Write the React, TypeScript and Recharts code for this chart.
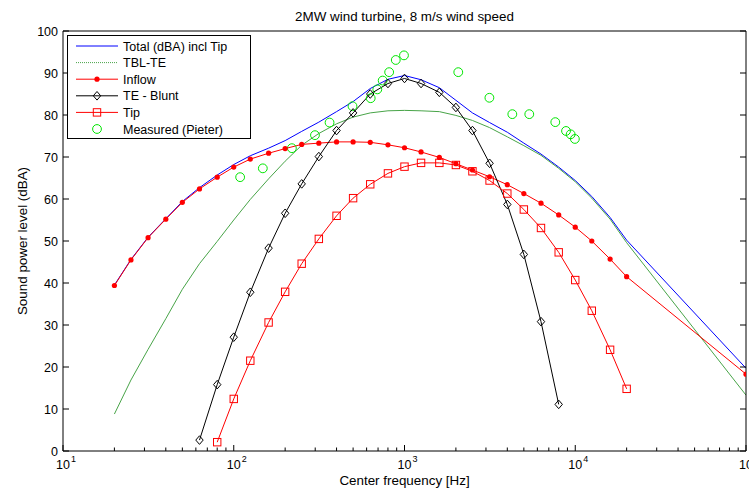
import {
  ComposedChart,
  Line,
  Scatter,
  XAxis,
  YAxis,
  Legend,
} from "recharts";

// 1/3-octave band centres used by the model curves (last point is the 100 kHz end value)
const freqs = [
  20, 25, 31.5, 40, 50, 63, 80, 100, 125, 160, 200, 250, 315, 400, 500, 630, 800,
  1000, 1250, 1600, 2000, 2500, 3150, 4000, 5000, 6300, 8000, 10000, 12500, 16000,
  20000, 100000,
];

const totalLevels = [
  39.5, 45.6, 50.9, 55.3, 59.4, 62.7, 65.7, 68.2, 70.3, 72.1, 73.9, 76.1, 78.3, 80.8,
  83.2, 86.3, 88.5, 89.4, 88.4, 86.5, 83.5, 80.5, 78.2, 75.9, 73.3, 70.7, 67.6, 64.4,
  60.6, 55.6, 50.2, 19.7,
];

const tblLevels = [
  8.8, 16.9, 24.2, 31.5, 38.5, 44.6, 49.9, 55.0, 59.9, 64.8, 69.0, 72.8, 75.6, 77.9,
  79.5, 80.5, 81.0, 81.1, 81.0, 80.8, 79.9, 78.7, 77.0, 74.8, 72.7, 70.4, 67.3, 64.1,
  60.2, 55.2, 49.6, 13.3,
];

const inflowLevels = [
  39.4, 45.5, 50.8, 55.2, 59.2, 62.4, 65.2, 67.6, 69.5, 70.9, 72.0, 73.0, 73.3, 73.6,
  73.6, 73.5, 72.9, 72.2, 71.2, 69.9, 68.4, 66.9, 65.3, 63.4, 61.3, 59.0, 56.2, 53.3,
  50.0, 45.7, 41.5, 18.3,
];

// TE - Blunt covers 63 Hz .. 8 kHz
const bluntFreqs = freqs.slice(5, 27);
const bluntLevels = [
  2.6, 15.8, 27.1, 37.8, 48.3, 56.6, 63.6, 70.1, 76.3, 80.5, 85.0, 87.5, 88.7, 87.5,
  85.4, 81.8, 76.3, 68.5, 58.7, 46.8, 30.8, 11.1,
];

// Tip covers 80 Hz .. 20 kHz
const tipFreqs = freqs.slice(6, 31);
const tipLevels = [
  2.1, 12.4, 21.5, 30.6, 37.9, 44.6, 50.5, 56.0, 60.2, 63.5, 66.1, 67.7, 68.6, 68.6,
  68.1, 66.6, 64.4, 61.3, 57.5, 53.1, 47.3, 40.7, 33.4, 24.1, 14.8,
];

const measuredFreqs = [
  109, 148, 219, 299, 364, 496, 634, 693, 745, 813, 889, 993, 2065, 3142, 4280,
  5380, 7640, 8830, 9400, 9950,
];
const measuredLevels = [
  65.2, 67.3, 72.1, 75.2, 78.2, 82.1, 84.0, 86.1, 88.2, 90.2, 93.1, 94.2, 90.2, 84.1,
  80.2, 80.2, 78.3, 76.2, 75.4, 74.3,
];

const xMajorTicks = [10, 100, 1000, 10000, 100000];
const xMinorSteps = [2, 3, 4, 5, 6, 7, 8, 9];
const yTicks = [0, 10, 20, 30, 40, 50, 60, 70, 80, 90, 100];

const xTicks = [
  ...xMajorTicks,
  ...xMajorTicks.slice(0, 4).flatMap((d) => xMinorSteps.map((s) => d * s)),
];

const toPoints = (fs: number[], vs: number[]) => fs.map((f, i) => ({ f, v: vs[i] }));

const totalData = toPoints(freqs, totalLevels);
const tblData = toPoints(freqs, tblLevels);
const inflowData = toPoints(freqs, inflowLevels);
const bluntData = toPoints(bluntFreqs, bluntLevels);
const tipData = toPoints(tipFreqs, tipLevels);
const measuredData = toPoints(measuredFreqs, measuredLevels);

const FONT = "'Liberation Sans', Arial, Helvetica, sans-serif";
const FS = 12.5; // ticks + legend
const LABEL_FS = 13.4; // title + axis labels

const BLUE = "#0000ff";
const GREEN_LINE = "#48a448";
const RED = "#ff0000";
const BLACK = "#000000";
const GREEN_MARK = "#00e600";

type MarkerKind = "none" | "dot" | "diamond" | "square" | "circle";

function Marker({ kind, cx, cy, color }: { kind: MarkerKind; cx: number; cy: number; color: string }) {
  if (kind === "dot") return <circle cx={cx} cy={cy} r={2.6} fill={color} stroke="none" />;
  if (kind === "diamond")
    return (
      <path
        d={`M${cx},${cy - 4.3}L${cx + 3.7},${cy}L${cx},${cy + 4.3}L${cx - 3.7},${cy}Z`}
        fill="none"
        stroke={color}
        strokeWidth={1}
      />
    );
  if (kind === "square")
    return <rect x={cx - 3.7} y={cy - 3.7} width={7.4} height={7.4} fill="none" stroke={color} strokeWidth={1} />;
  if (kind === "circle") return <circle cx={cx} cy={cy} r={4.4} fill="none" stroke={color} strokeWidth={1} />;
  return null;
}

const dotRenderer = (kind: MarkerKind, color: string) => (p: any) =>
  <Marker key={`m-${p.index}`} kind={kind} cx={p.cx} cy={p.cy} color={color} />;

const isMajor = (v: number) => xMajorTicks.includes(v);

function BottomTick(props: any) {
  const { x, y, payload } = props;
  const major = isMajor(payload.value);
  const exp = Math.round(Math.log10(payload.value));
  return (
    <g>
      <line x1={x} y1={y} x2={x} y2={y - (major ? 6 : 3.5)} stroke="#000" />
      {major && (
        <text x={x} y={y + 18} textAnchor="middle" fontSize={FS} fill="#000" fontFamily={FONT}>
          10
        </text>
      )}
      {major && (
        <text x={x + 8} y={y + 11} textAnchor="start" fontSize={9} fill="#000" fontFamily={FONT}>
          {exp}
        </text>
      )}
    </g>
  );
}

function TopTick(props: any) {
  const { x, y, payload } = props;
  const major = isMajor(payload.value);
  return <line x1={x} y1={y} x2={x} y2={y + (major ? 6 : 3.5)} stroke="#000" />;
}

function LeftTick(props: any) {
  const { x, y, payload } = props;
  return (
    <g>
      <line x1={x} y1={y} x2={x + 6} y2={y} stroke="#000" />
      <text x={x - 5} y={y + 4.5} textAnchor="end" fontSize={FS} fill="#000" fontFamily={FONT}>
        {payload.value}
      </text>
    </g>
  );
}

function RightTick(props: any) {
  const { x, y } = props;
  return <line x1={x} y1={y} x2={x - 6} y2={y} stroke="#000" />;
}

const legendItems: { name: string; color: string; marker: MarkerKind; line: boolean; dash?: string }[] = [
  { name: "Total (dBA) incl Tip", color: BLUE, marker: "none", line: true },
  { name: "TBL-TE", color: GREEN_LINE, marker: "none", line: true, dash: "1 1" },
  { name: "Inflow", color: RED, marker: "dot", line: true },
  { name: "TE - Blunt", color: BLACK, marker: "diamond", line: true },
  { name: "Tip", color: RED, marker: "square", line: true },
  { name: "Measured (Pieter)", color: GREEN_MARK, marker: "circle", line: false },
];

function LegendBox() {
  return (
    <svg width={184} height={104} style={{ display: "block" }}>
      <rect x={0.5} y={0.5} width={183} height={103} fill="#fff" stroke="#000" />
      {legendItems.map((it, i) => {
        const cy = 11 + i * 16.6;
        return (
          <g key={it.name}>
            {it.line && (
              <line x1={9} y1={cy} x2={51} y2={cy} stroke={it.color} strokeDasharray={it.dash} />
            )}
            <Marker kind={it.marker} cx={30} cy={cy} color={it.color} />
            <text x={56} y={cy + 4.5} fontSize={FS} fill="#000" fontFamily={FONT}>
              {it.name}
            </text>
          </g>
        );
      })}
    </svg>
  );
}

export default function App() {
  return (
    <div style={{ position: "absolute", left: 0, top: 0, fontFamily: FONT, background: "#fff" }}>
      <ComposedChart width={749} height={488} margin={{ top: 30, right: 2, bottom: 1, left: 18 }}>
        <XAxis
          xAxisId="b"
          type="number"
          dataKey="f"
          scale="log"
          domain={[10, 100000]}
          allowDataOverflow
          ticks={xTicks}
          interval={0}
          tickLine={false}
          tickSize={0}
          tickMargin={0}
          tick={<BottomTick />}
          axisLine={{ stroke: "#000" }}
          height={36}
          label={{
            value: "Center frequency [Hz]",
            position: "insideBottom",
            offset: 2,
            style: { fontSize: LABEL_FS, fill: "#000", fontFamily: FONT },
          }}
        />
        <XAxis
          xAxisId="t"
          orientation="top"
          type="number"
          scale="log"
          domain={[10, 100000]}
          allowDataOverflow
          ticks={xTicks}
          interval={0}
          tickLine={false}
          tickSize={0}
          tickMargin={0}
          tick={<TopTick />}
          axisLine={{ stroke: "#000" }}
          height={1}
          label={{
            value: "2MW wind turbine, 8 m/s wind speed",
            position: "top",
            offset: 9,
            style: { fontSize: LABEL_FS, fill: "#000", fontFamily: FONT },
          }}
        />
        <YAxis
          yAxisId="l"
          dataKey="v"
          type="number"
          domain={[0, 100]}
          allowDataOverflow
          ticks={yTicks}
          interval={0}
          tickLine={false}
          tickSize={0}
          tickMargin={0}
          tick={<LeftTick />}
          axisLine={{ stroke: "#000" }}
          width={45}
          label={{
            value: "Sound power level (dBA)",
            angle: -90,
            position: "insideLeft",
            offset: 4,
            style: { fontSize: LABEL_FS, fill: "#000", fontFamily: FONT, textAnchor: "middle" },
          }}
        />
        <YAxis
          yAxisId="r"
          orientation="right"
          type="number"
          domain={[0, 100]}
          allowDataOverflow
          ticks={yTicks}
          interval={0}
          tickLine={false}
          tickSize={0}
          tickMargin={0}
          tick={<RightTick />}
          axisLine={{ stroke: "#000" }}
          width={1}
        />
        <Legend
          layout="vertical"
          align="center"
          verticalAlign="middle"
          wrapperStyle={{ left: 67, top: 35, width: 184, height: 104 }}
          content={() => <LegendBox />}
        />
        <Line
          xAxisId="b"
          yAxisId="l"
          data={totalData}
          dataKey="v"
          name="Total (dBA) incl Tip"
          stroke={BLUE}
          strokeWidth={1}
          dot={false}
          activeDot={false}
          isAnimationActive={false}
        />
        <Line
          xAxisId="b"
          yAxisId="l"
          data={tblData}
          dataKey="v"
          name="TBL-TE"
          stroke={GREEN_LINE}
          strokeWidth={1}
          dot={false}
          activeDot={false}
          isAnimationActive={false}
        />
        <Line
          xAxisId="b"
          yAxisId="l"
          data={inflowData}
          dataKey="v"
          name="Inflow"
          stroke={RED}
          strokeWidth={1}
          dot={dotRenderer("dot", RED)}
          activeDot={false}
          isAnimationActive={false}
        />
        <Line
          xAxisId="b"
          yAxisId="l"
          data={bluntData}
          dataKey="v"
          name="TE - Blunt"
          stroke={BLACK}
          strokeWidth={1}
          dot={dotRenderer("diamond", BLACK)}
          activeDot={false}
          isAnimationActive={false}
        />
        <Line
          xAxisId="b"
          yAxisId="l"
          data={tipData}
          dataKey="v"
          name="Tip"
          stroke={RED}
          strokeWidth={1}
          dot={dotRenderer("square", RED)}
          activeDot={false}
          isAnimationActive={false}
        />
        <Scatter
          xAxisId="b"
          yAxisId="l"
          data={measuredData}
          dataKey="v"
          name="Measured (Pieter)"
          shape={(p: any) => <Marker kind="circle" cx={p.cx} cy={p.cy} color={GREEN_MARK} />}
          isAnimationActive={false}
        />
      </ComposedChart>
    </div>
  );
}
